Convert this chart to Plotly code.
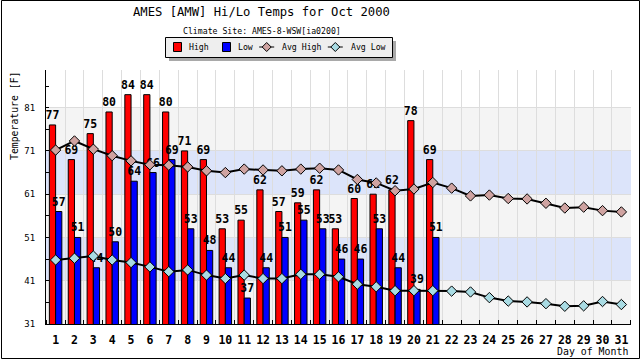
import plotly.graph_objects as go

# ---------------- data ----------------
days = list(range(1, 32))
obs_days = list(range(1, 22))
high = [77, 69, 75, 80, 84, 84, 80, 71, 69, 53, 55, 62, 57, 59, 62, 53, 60, 61, 62, 78, 69]
low = [57, 51, 44, 50, 64, 66, 69, 53, 48, 44, 37, 44, 51, 55, 53, 46, 46, 53, 44, 39, 51]
avg_high = [71.2, 73.3, 71.4, 69.9, 68.7, 67.8, 67.7, 67.3, 66.4, 66.0, 66.8, 66.6, 66.4, 66.8,
            67.0, 66.6, 64.4, 63.6, 61.8, 62.2, 63.7, 62.4, 60.6, 60.8, 60.0, 59.9, 58.9, 57.8,
            58.0, 57.2, 56.9]
avg_low = [45.8, 46.2, 46.7, 45.8, 45.2, 44.2, 43.1, 43.5, 42.3, 41.5, 42.3, 41.5, 41.5, 42.5,
           42.5, 41.9, 40.2, 39.6, 38.7, 38.7, 38.7, 38.6, 38.4, 37.1, 36.3, 36.1, 35.7, 35.1,
           35.2, 36.2, 35.5]
y_ticks = [31, 41, 51, 61, 71, 81]
title = "AMES [AMW] Hi/Lo Temps for Oct 2000"
subtitle = "Climate Site: AMES-8-WSW[ia0200]"
series_names = ["High", "Low", "Avg High", "Avg Low"]

# ---------------- layout geometry ----------------
W, H = 640, 360
L, R, T, B = 46, 9, 70, 36
PW, PH = W - L - R, H - T - B


def px(x):
    return (x - L) / PW


def py(y):
    return (T + PH - y) / PH


MONO = "DejaVu Sans Mono"
RED, BLUE = "#ff0000", "#0000ff"
AH_FILL, AL_FILL = "#cfa3a1", "#a9dbe3"
BAND_GRAY, BAND_BLUE = "#f4f4f4", "#dce4fa"

fig = go.Figure()
fig.add_trace(go.Bar(x=obs_days, y=high, name=series_names[0],
                     marker=dict(color=RED, line=dict(color="black", width=1)),
                     text=high, textposition="outside", constraintext="none",
                     textfont=dict(family=MONO, size=11.5, color="black", weight="bold"),
                     cliponaxis=False, showlegend=False))
fig.add_trace(go.Bar(x=obs_days, y=low, name=series_names[1],
                     marker=dict(color=BLUE, line=dict(color="black", width=1)),
                     text=low, textposition="outside", constraintext="none",
                     textfont=dict(family=MONO, size=11.5, color="black", weight="bold"),
                     cliponaxis=False, showlegend=False))
fig.add_trace(go.Scatter(x=days, y=avg_high, name=series_names[2], mode="lines+markers",
                         line=dict(color="black", width=2),
                         marker=dict(symbol="diamond", size=8, color=AH_FILL,
                                     line=dict(color="black", width=1)),
                         cliponaxis=False, showlegend=False))
fig.add_trace(go.Scatter(x=days, y=avg_low, name=series_names[3], mode="lines+markers",
                         line=dict(color="black", width=2),
                         marker=dict(symbol="diamond", size=8, color=AL_FILL,
                                     line=dict(color="black", width=1)),
                         cliponaxis=False, showlegend=False))

shapes = []
# background bands
for i, (y0, y1) in enumerate(zip(y_ticks[:-1], y_ticks[1:])):
    shapes.append(dict(type="rect", xref="paper", yref="y", x0=0, x1=1, y0=y0, y1=y1,
                       fillcolor=BAND_GRAY if i % 2 == 0 else BAND_BLUE,
                       line=dict(width=0), layer="below"))
# outer frame
shapes.append(dict(type="rect", xref="paper", yref="paper", x0=px(1.5), x1=px(639.5),
                   y0=py(358.5), y1=py(0.5), line=dict(color="black", width=1),
                   fillcolor="rgba(0,0,0,0)", layer="above"))
# legend box with shadow
shapes.append(dict(type="rect", xref="paper", yref="paper", x0=px(169), x1=px(396),
                   y0=py(61), y1=py(41), fillcolor="#a9a9a9", line=dict(width=0)))
shapes.append(dict(type="rect", xref="paper", yref="paper", x0=px(165.5), x1=px(392.5),
                   y0=py(57.5), y1=py(37.5), fillcolor="#eeeeee",
                   line=dict(color="black", width=1)))
# legend symbols
for x0, col in [(173.5, RED), (222.5, BLUE)]:
    shapes.append(dict(type="rect", xref="paper", yref="paper", x0=px(x0), x1=px(x0 + 8),
                       y0=py(51.5), y1=py(42.5), fillcolor=col,
                       line=dict(color="black", width=1)))
for cx, col in [(266.7, AH_FILL), (335.3, AL_FILL)]:
    shapes.append(dict(type="line", xref="paper", yref="paper", x0=px(cx - 7.5), x1=px(cx + 7.5),
                       y0=py(47), y1=py(47), line=dict(color="black", width=1)))
    d = 4.5
    path = (f"M {px(cx - d)} {py(47)} L {px(cx)} {py(47 - d)} "
            f"L {px(cx + d)} {py(47)} L {px(cx)} {py(47 + d)} Z")
    shapes.append(dict(type="path", xref="paper", yref="paper", path=path,
                       fillcolor=col, line=dict(color="black", width=1)))

annotations = [
    dict(text=title, x=px(261), y=py(12.5), xref="paper", yref="paper", showarrow=False,
         xanchor="center", yanchor="middle", font=dict(family=MONO, size=12.2, color="black")),
    dict(text=subtitle, x=px(262), y=py(31), xref="paper", yref="paper", showarrow=False,
         xanchor="center", yanchor="middle", font=dict(family=MONO, size=8.2, color="black")),
    dict(text="Temperature [F]", x=px(14), y=py(116), xref="paper", yref="paper",
         showarrow=False, textangle=-90, xanchor="center", yanchor="middle",
         font=dict(family=MONO, size=9.8, color="black")),
    dict(text="Day of Month", x=px(629.5), y=py(351), xref="paper", yref="paper",
         showarrow=False, xanchor="right", yanchor="middle",
         font=dict(family=MONO, size=9.9, color="black")),
]
for name, x in zip(series_names, [186.5, 236, 280, 349.3]):
    annotations.append(dict(text=name, x=px(x), y=py(47.3), xref="paper", yref="paper",
                            showarrow=False, xanchor="left", yanchor="middle",
                            font=dict(family=MONO, size=8.2, color="black")))

fig.update_layout(
    width=W, height=H, margin=dict(l=L, r=R, t=T, b=B, pad=0),
    paper_bgcolor="white", plot_bgcolor="white",
    barmode="group", bargap=0.34, bargroupgap=0,
    showlegend=False, shapes=shapes, annotations=annotations,
    xaxis=dict(range=[0.49, 31.51], tickvals=days, ticktext=[str(d) for d in days],
               ticks="", showgrid=False, zeroline=False,
               showline=True, linecolor="black", linewidth=1,
               tickfont=dict(family=MONO, size=11.5, color="black", weight="bold"),
               ticklabelstandoff=5,
               minor=dict(tick0=0.5, dtick=1, ticks="inside", ticklen=4, tickcolor="black",
                          showgrid=True, gridcolor="#dddddd", gridwidth=1)),
    yaxis=dict(range=[31, 89.7], tickvals=y_ticks, ticks="inside", ticklen=3,
               tickcolor="black", showgrid=True, gridcolor="#dddddd", gridwidth=1,
               zeroline=False, showline=True, linecolor="black", linewidth=1,
               tickfont=dict(family=MONO, size=9, color="black"),
               ticklabelstandoff=8,
               minor=dict(tick0=31, dtick=5, ticks="inside", ticklen=3, tickcolor="black",
                          showgrid=False)),
)

fig.write_html("out.html", config={"displayModeBar": False},
               post_script="document.body.style.margin='0px';")
